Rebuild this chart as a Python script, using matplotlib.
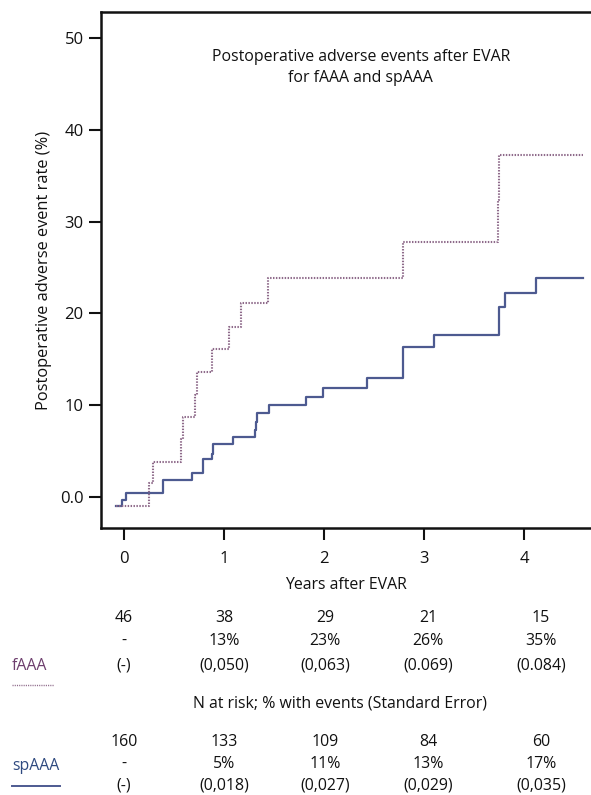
import matplotlib
matplotlib.use("Agg")
import matplotlib.pyplot as plt
from matplotlib.lines import Line2D

plt.rcParams['font.family'] = ['Open Sans', 'DejaVu Sans']

# ---- data ----
sp_t = [-0.08, -0.02, 0.02, 0.39, 0.68, 0.79, 0.88, 0.89, 1.09, 1.31, 1.32, 1.33,
        1.45, 1.82, 1.99, 2.43, 2.79, 3.10, 3.75, 3.81, 4.12, 4.59]
sp_v = [-1.0, -0.3, 0.4, 1.85, 2.6, 4.1, 4.7, 5.8, 6.5, 7.3, 8.2, 9.2,
        10.0, 10.9, 11.9, 13.0, 16.3, 17.6, 20.7, 22.2, 23.9, 23.9]

f_t = [-0.08, 0.25, 0.29, 0.57, 0.59, 0.71, 0.73, 0.88, 1.05, 1.17, 1.44,
       2.79, 3.74, 3.75, 4.59]
f_v = [-1.0, 1.5, 3.8, 6.3, 8.7, 11.1, 13.6, 16.1, 18.5, 21.1, 23.9,
       27.8, 32.4, 37.3, 37.3]

yticks = [0, 10, 20, 30, 40, 50]
ytick_labels = ["0.0", "10", "20", "30", "40", "50"]
xticks = [0, 1, 2, 3, 4]

f_n = ["46", "38", "29", "21", "15"]
f_pct = ["-", "13%", "23%", "26%", "35%"]
f_se = ["(-)", "(0,050)", "(0,063)", "(0.069)", "(0.084)"]
sp_n = ["160", "133", "109", "84", "60"]
sp_pct = ["-", "5%", "11%", "13%", "17%"]
sp_se = ["(-)", "(0,018)", "(0,027)", "(0,029)", "(0,035)"]

col_sp = "#4d5a90"
col_f = "#8e6a8a"
txt = "#111111"
fs = 11.4

fig = plt.figure(figsize=(5.91, 7.95), dpi=100)
ax = fig.add_axes([101/591, 1-528/795, 1-101/591, (528-12)/795])

ax.step(sp_t, sp_v, where='post', color=col_sp, lw=1.6)
ax.step(f_t, f_v, where='post', color=col_f, lw=1.5, linestyle=(0, (0.7, 0.7)))

ax.set_xlim(-0.23, 4.67)
ax.set_ylim(-3.38, 52.83)
ax.set_yticks(yticks)
ax.set_yticklabels(ytick_labels)
ax.set_xticks(xticks)
for s in ['top', 'left', 'bottom']:
    ax.spines[s].set_linewidth(1.8)
    ax.spines[s].set_color('#111111')
ax.spines['right'].set_visible(False)
ax.tick_params(axis='both', length=8.5, width=1.5, labelsize=12, colors='#111111',
               labelcolor=txt)
ax.tick_params(axis='y', pad=4)
ax.tick_params(axis='x', pad=8)
ax.set_ylabel("Postoperative adverse event rate (%)", fontsize=11.8, color=txt, labelpad=6)
ax.set_xlabel("Years after EVAR", fontsize=fs, color=txt, labelpad=7)

ax.text(0.53, 0.892, "Postoperative adverse events after EVAR\nfor fAAA and spAAA",
        transform=ax.transAxes, ha='center', va='center', fontsize=fs,
        color=txt, linespacing=1.4)

# ---- risk table ----
col_x = [124, 224, 325, 428, 541]
def put(xpx, ypx, s, **kw):
    fig.text(xpx/591, 1-ypx/795, s, ha='center', va='center', fontsize=fs, color=txt, **kw)

for rows, ys in (((f_n, f_pct, f_se), (618, 641, 665)),
                 ((sp_n, sp_pct, sp_se), (742, 764, 785))):
    for row, y in zip(rows, ys):
        for x, s in zip(col_x, row):
            put(x, y, s)

put(340, 704, "N at risk; % with events (Standard Error)")
fig.text(12/591, 1-666/795, "fAAA", ha='left', va='center', fontsize=fs, color="#6e3f6e")
fig.text(12/591, 1-766/795, "spAAA", ha='left', va='center', fontsize=fs, color="#2f4a80")
fig.add_artist(Line2D([12/591, 54/591], [1-685/795, 1-685/795], color=col_f, lw=1.0,
                      linestyle=(0, (0.8, 0.8))))
fig.add_artist(Line2D([12/591, 60/591], [1-786/795, 1-786/795], color=col_sp, lw=1.4))

fig.savefig("out.png", dpi=100)
